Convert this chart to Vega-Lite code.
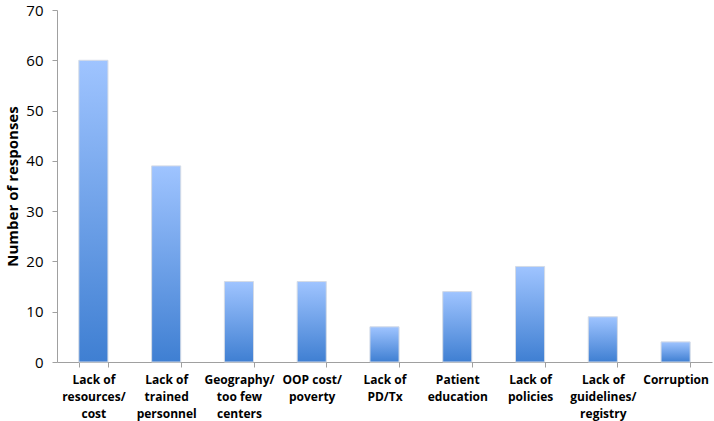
{
  "$schema": "https://vega.github.io/schema/vega-lite/v6.json",
  "width": 655,
  "height": 352,
  "autosize": {"type": "none"},
  "padding": {"left": 57, "top": 10, "right": 2, "bottom": 59},
  "background": "white",
  "data": {
    "values": [
      {"barrier": "Lack of|resources/|cost", "responses": 60},
      {"barrier": "Lack of|trained|personnel", "responses": 39},
      {"barrier": "Geography/|too few|centers", "responses": 16},
      {"barrier": "OOP cost/|poverty", "responses": 16},
      {"barrier": "Lack of|PD/Tx", "responses": 7},
      {"barrier": "Patient|education", "responses": 14},
      {"barrier": "Lack of|policies", "responses": 19},
      {"barrier": "Lack of|guidelines/|registry", "responses": 9},
      {"barrier": "Corruption", "responses": 4}
    ]
  },
  "mark": {
    "type": "bar",
    "stroke": "#d4dbe6",
    "strokeWidth": 1,
    "color": {
      "gradient": "linear",
      "x1": 0, "y1": 0, "x2": 0, "y2": 1,
      "stops": [
        {"offset": 0, "color": "#9fc4ff"},
        {"offset": 1, "color": "#3f7fd2"}
      ]
    }
  },
  "encoding": {
    "x": {
      "field": "barrier",
      "type": "nominal",
      "sort": null,
      "scale": {"paddingInner": 0.6, "paddingOuter": 0.3},
      "axis": {
        "title": null,
        "labelAngle": 0,
        "labelExpr": "isValid(datum.value) ? split(datum.value, '|') : ''",
        "labelFont": "Open Sans",
        "labelFontWeight": "bold",
        "labelFontSize": 12,
        "labelLineHeight": 17,
        "labelColor": "#000000",
        "labelPadding": 7,
        "tickBand": "extent",
        "tickSize": 5,
        "tickColor": "#a0a0a0",
        "domainColor": "#a0a0a0"
      }
    },
    "y": {
      "field": "responses",
      "type": "quantitative",
      "scale": {"domain": [0, 70]},
      "axis": {
        "title": "Number of responses",
        "titleFont": "Open Sans",
        "titleFontSize": 15,
        "titleFontWeight": "bold",
        "titleColor": "#000000",
        "titlePadding": 5,
        "values": [0, 10, 20, 30, 40, 50, 60, 70],
        "grid": false,
        "labelFont": "Open Sans",
        "labelFontSize": 15,
        "labelColor": "#000000",
        "labelPadding": 9,
        "tickSize": 5,
        "tickColor": "#a0a0a0",
        "domainColor": "#a0a0a0"
      }
    }
  },
  "config": {"view": {"stroke": null}}
}
